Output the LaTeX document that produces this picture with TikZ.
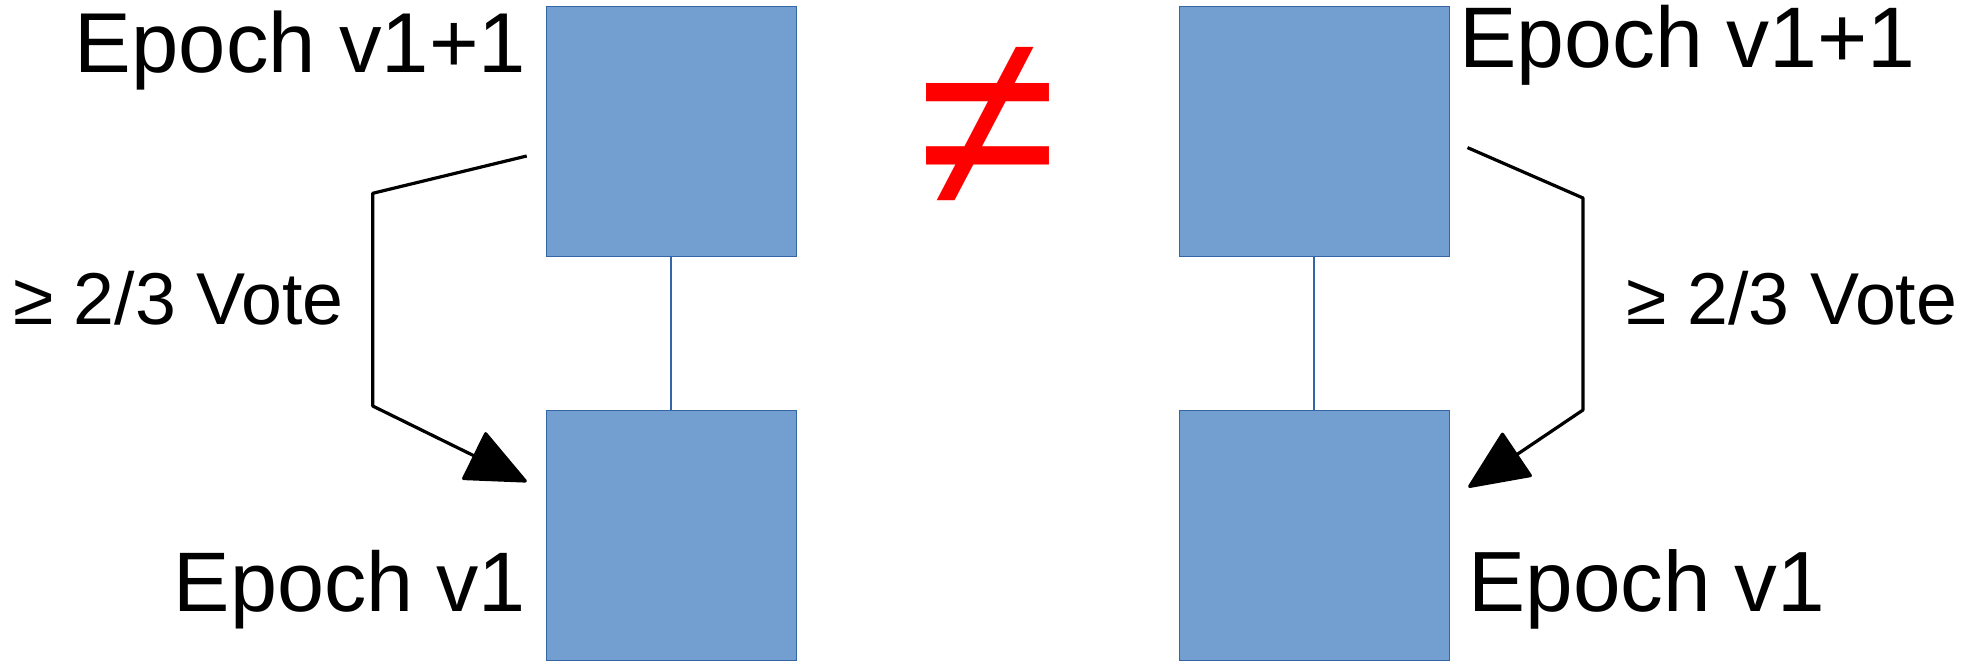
\documentclass[tikz,border=0pt]{standalone}
\usepackage{fontspec}
\setmainfont{Liberation Sans}
\usetikzlibrary{arrows.meta}
\definecolor{boxfill}{HTML}{729FCF}
\definecolor{boxline}{HTML}{3465A4}
\tikzset{
  block/.style={draw=boxline, line width=1pt, fill=boxfill, inner sep=0pt, minimum height=250pt},
  link/.style={draw=boxline, line width=2.5pt},
  vote/.style={draw=black, line width=3.2pt, line join=round, -{Triangle[length=62pt,width=54pt,round]}},
  lblw/.style={inner sep=0pt, anchor=base west},
  lble/.style={inner sep=0pt, anchor=base east},
}
\begin{document}
\begin{tikzpicture}[x=1pt,y=-1pt]
\useasboundingbox[fill=white] (0,0) rectangle (1980,661);
% blocks
\node[block, minimum width=250pt] (ltop) at (671,131.5) {};
\node[block, minimum width=250pt] (lbot) at (671,535) {};
\node[block, minimum width=270pt] (rtop) at (1314,131.5) {};
\node[block, minimum width=270pt] (rbot) at (1314,535) {};
\draw[link] (ltop.south) -- (lbot.north);
\draw[link] (rtop.south) -- (rbot.north);
% labels
\node[lble] (ltopl) at (526.3,73) {\fontsize{85}{85}\selectfont Epoch v1+1};
\node[lble] (lbotl) at (526.3,611.5) {\fontsize{84.5}{84.5}\selectfont Epoch v1};
\node[lblw] (rtopl) at (1459,67.5) {\fontsize{86}{86}\selectfont Epoch v1+1};
\node[lblw] (rbotl) at (1468.5,611) {\fontsize{85.5}{85.5}\selectfont Epoch v1};
\node[lblw] (lvote) at (13,324) {\fontsize{73.5}{73.5}\selectfont ≥ 2/3 Vote};
\node[lblw] (rvote) at (1626.5,324.3) {\fontsize{73.5}{73.5}\selectfont ≥ 2/3 Vote};
\node[lblw, text=red] (neq) at (918,207) {\fontsize{253}{253}\selectfont ≠};
% vote arrows
\coordinate (ls) at (526.7,156);
\coordinate (lc1) at (372.7,193.3);
\coordinate (lc2) at (372.7,406);
\coordinate (lt) at (526.7,481.7);
\draw[vote] (ls) -- (lc1) -- (lc2) -- (lt);
\coordinate (rs) at (1467.5,147.6);
\coordinate (rc1) at (1583,198);
\coordinate (rc2) at (1583,410);
\coordinate (rt) at (1468.3,487.3);
\draw[vote] (rs) -- (rc1) -- (rc2) -- (rt);
\end{tikzpicture}
\end{document}
